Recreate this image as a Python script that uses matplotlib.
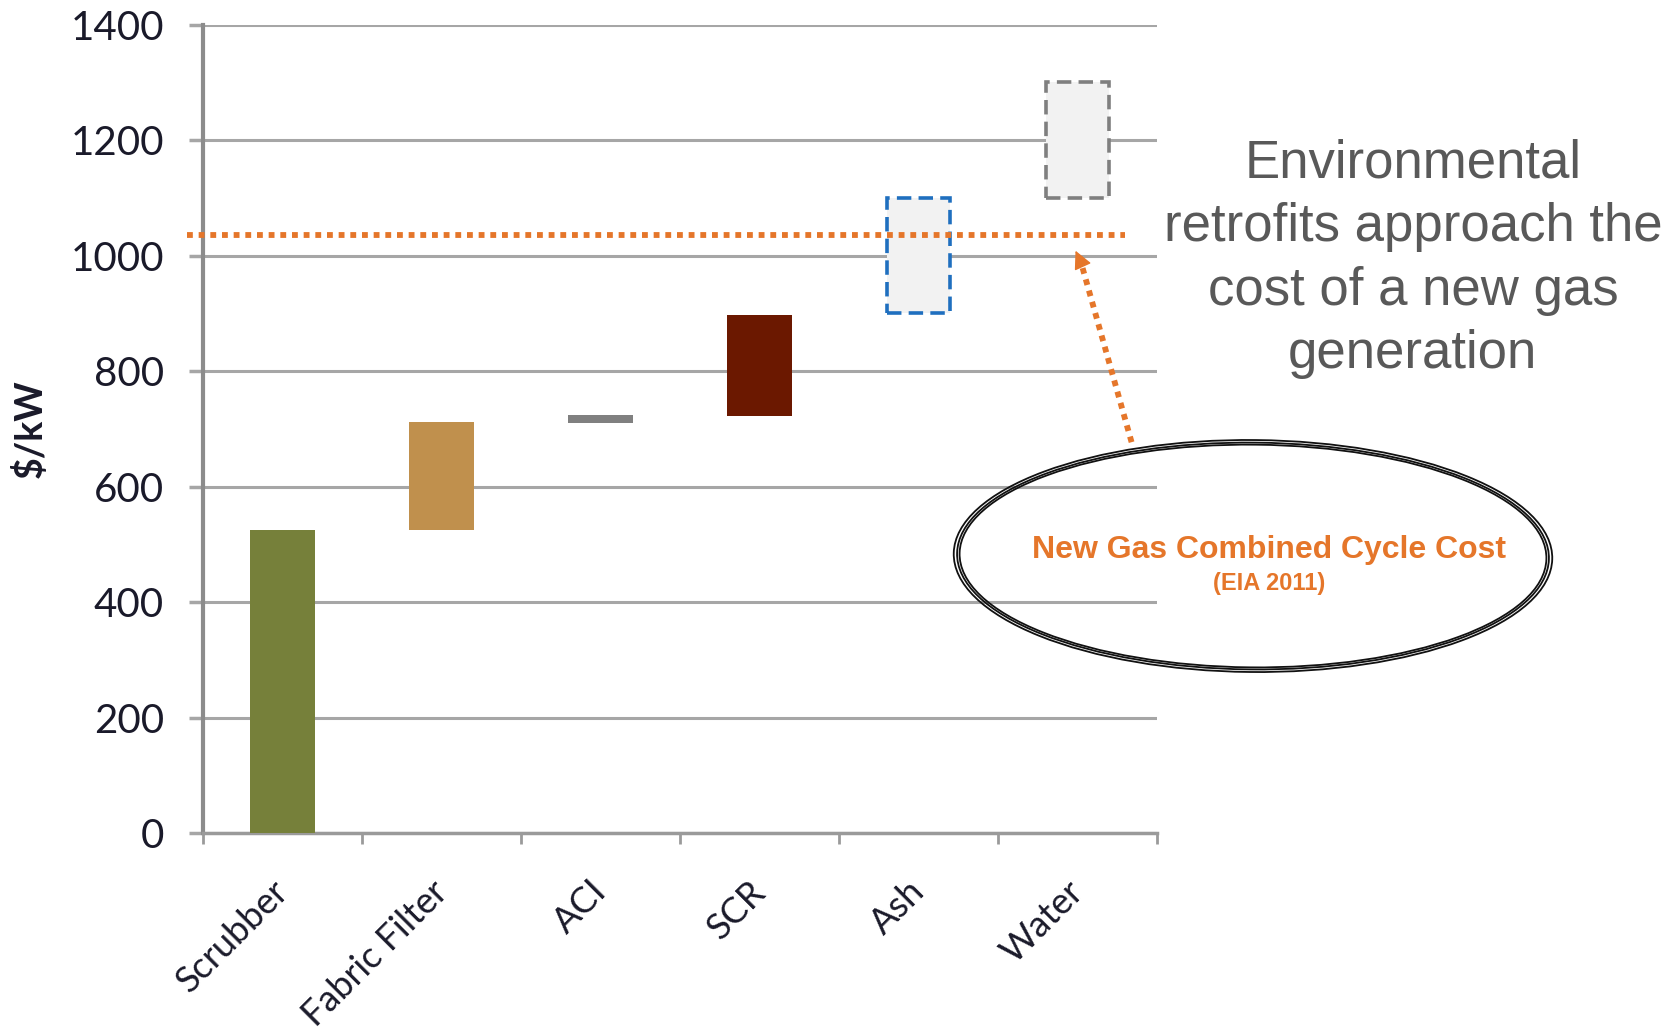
import matplotlib.pyplot as plt
from matplotlib.patches import Ellipse

categories = ['Scrubber', 'Fabric Filter', 'ACI', 'SCR', 'Ash', 'Water']
bottoms = [0, 525, 710, 722, 900, 1100]
tops = [525, 712, 724, 898, 1100, 1300]
gas_cost = 1035
yticks = [0, 200, 400, 600, 800, 1000, 1200, 1400]

solid_colors = ['#76803A', '#C0904D', '#808080', '#6B1800']
dashed_edges = ['#1F6FBF', '#7F7F7F']
orange = '#E5762A'

fig = plt.figure(figsize=(16.72, 10.31), dpi=100)
ax = fig.add_axes([0.1214, 0.192, 0.5706, 0.784])

x = list(range(len(categories)))
heights = [t - b for t, b in zip(tops, bottoms)]

# solid bars for the known retrofits
ax.bar(x[:4], heights[:4], bottom=bottoms[:4], width=0.41, color=solid_colors, zorder=3)
# dashed boxes for the uncertain ones
for i, ec in zip(x[4:], dashed_edges):
    ax.bar(i, heights[i], bottom=bottoms[i], width=0.40, color='#F2F2F2', edgecolor=ec,
           linewidth=2.6, linestyle=(0, (4, 2)), zorder=3)

ax.set_xlim(-0.5, 5.5)
ax.set_ylim(0, 1400)
ax.set_yticks(yticks)
ax.set_yticklabels([str(v) for v in yticks], fontsize=29, family='Lato', color='#1A1A2A')
# labels sit a little left of the bar centres once rotated
ax.set_xticks([i - 0.07 for i in x])
ax.set_xticklabels(categories, rotation=45, ha='right', va='top', rotation_mode='anchor',
                   fontsize=26, family='Lato', color='#1A1A2A')
ax.set_xticks([i - 0.5 for i in range(len(categories) + 1)], minor=True)
ax.tick_params(axis='x', which='major', length=0, pad=30)
ax.tick_params(axis='x', which='minor', length=8, width=2, color='#9A9A9A', direction='out')
ax.tick_params(axis='y', length=10, width=2.5, color='#A6A6A6', pad=18)

ax.grid(axis='y', color='#A6A6A6', linewidth=2.2, zorder=0)
for s in ['top', 'right']:
    ax.spines[s].set_visible(False)
ax.spines['left'].set_color('#8C8C8C')
ax.spines['left'].set_linewidth(3)
ax.spines['bottom'].set_color('#9A9A9A')
ax.spines['bottom'].set_linewidth(2.5)

ax.set_ylabel('$/kW', fontsize=27, family='Lato', fontweight='bold', color='#1A1A2A')
ax.yaxis.set_label_coords(-0.163, 0.50)

# new gas combined cycle cost line
ax.plot([-0.6, 5.3], [gas_cost, gas_cost], color=orange, linewidth=4.2,
        linestyle=(0, (1, 1)), dash_capstyle='butt', clip_on=False, zorder=4)

# dotted arrow from the callout up to the line
ax.plot([5.34, 5.01], [677, 1000], color=orange, linewidth=4.2,
        linestyle=(0, (1, 1)), dash_capstyle='butt', clip_on=False, zorder=4)
ax.annotate('', xy=(4.98, 1013), xytext=(5.01, 995),
            arrowprops=dict(arrowstyle='-|>', color=orange, lw=1, mutation_scale=28),
            annotation_clip=False)

# callout ellipse, drawn a few times for the sketchy outline
for dw, dh in [(0, 0), (0.004, 0.005), (-0.003, -0.004)]:
    fig.add_artist(Ellipse((0.7494, 0.4607), 0.354 + dw, 0.220 + dh, angle=-1,
                           fill=False, edgecolor='#111111', linewidth=1.3,
                           transform=fig.transFigure))

fig.text(0.759, 0.467, 'New Gas Combined Cycle Cost', ha='center', va='center',
         fontsize=23, fontweight='bold', color=orange, family='Liberation Sans')
fig.text(0.759, 0.434, '(EIA 2011)', ha='center', va='center',
         fontsize=17, fontweight='bold', color=orange, family='Liberation Sans')

fig.text(0.845, 0.749, 'Environmental\nretrofits approach the\ncost of a new gas\ngeneration',
         ha='center', va='center', fontsize=38, color='#595959', family='Liberation Sans',
         linespacing=1.35)

fig.savefig('out.png', dpi=100)
